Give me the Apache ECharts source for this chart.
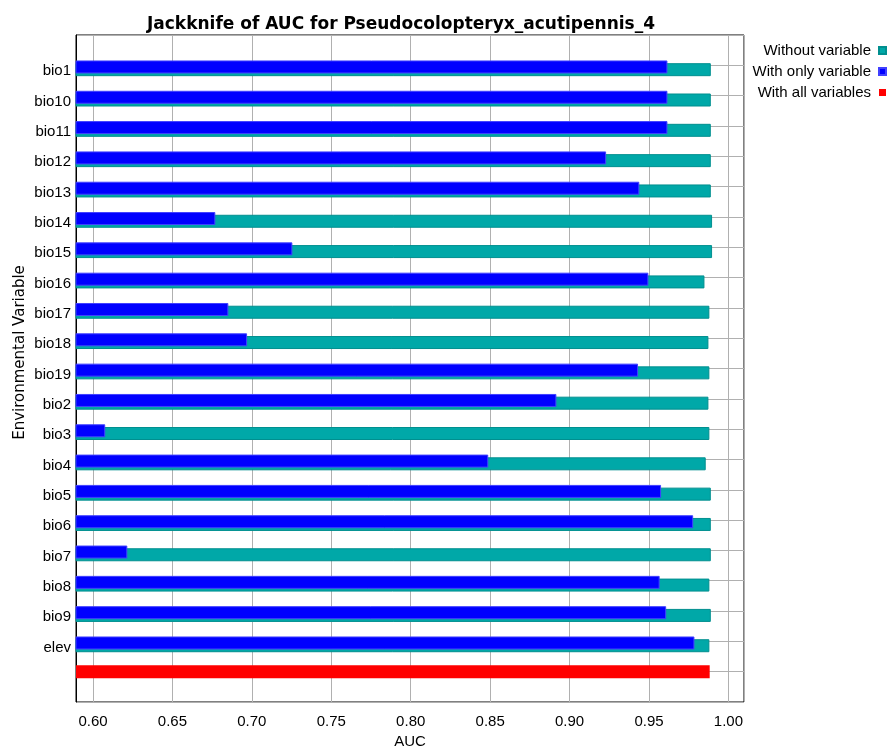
<!DOCTYPE html>
<html>
<head>
<meta charset="utf-8">
<script src="https://cdn.jsdelivr.net/npm/echarts@6/dist/echarts.min.js"></script>
<style>
  html, body { margin: 0; padding: 0; background: #fff; }
  #chart { width: 888px; height: 748px; }
</style>
</head>
<body>
<div id="chart"></div>
<script>
// jackknife results
const variables = ['bio1', 'bio10', 'bio11', 'bio12', 'bio13', 'bio14', 'bio15', 'bio16', 'bio17', 'bio18',
  'bio19', 'bio2', 'bio3', 'bio4', 'bio5', 'bio6', 'bio7', 'bio8', 'bio9', 'elev'];
const withoutVariable = [0.9889, 0.9889, 0.9889, 0.9889, 0.9889, 0.9897, 0.9897, 0.9849, 0.9880, 0.9874,
  0.9880, 0.9874, 0.9880, 0.9857, 0.9889, 0.9889, 0.9889, 0.9880, 0.9889, 0.9880];
const withOnlyVariable = [0.9616, 0.9616, 0.9616, 0.9230, 0.9439, 0.6770, 0.7255, 0.9496, 0.6852, 0.6970,
  0.9431, 0.8917, 0.6077, 0.8488, 0.9576, 0.9778, 0.6216, 0.9567, 0.9608, 0.9786];
const withAllVariables = 0.9882;

const xMin = 0.5893;
const xMax = 1.0098;

// empty slot on top, one row for "all variables", empty slot at bottom
const categories = [' '].concat(variables, ['  ', '   ']);
const allIndex = variables.length + 1;

const padRows = (arr) => [null].concat(arr, [null, null]);
const allRow = categories.map((c, i) => (i === allIndex ? withAllVariables : null));

const font = 'Liberation Sans, Arial, sans-serif';
const wideFont = 'DejaVu Sans, sans-serif';
const chart = echarts.init(document.getElementById('chart'));

const option = {
  animation: false,
  textStyle: { fontFamily: font },
  title: {
    text: 'Jackknife of AUC for Pseudocolopteryx_acutipennis_4',
    left: 396,
    textAlign: 'center',
    top: 11,
    textStyle: { fontSize: 17, fontWeight: 'bold', color: '#000', fontFamily: wideFont },
  },
  legend: {
    data: ['Without variable', 'With only variable', 'With all variables'],
    orient: 'vertical',
    align: 'right',
    right: 1,
    top: 43,
    padding: 0,
    itemWidth: 7,
    itemHeight: 7,
    itemGap: 6,
    icon: 'rect',
    textStyle: { fontSize: 15, color: '#000', fontFamily: font, padding: [0, 3, 0, 0] },
  },
  grid: [
    { left: 76, right: 144, top: 35, bottom: 46, show: true, borderColor: '#000', borderWidth: 1,
      containLabel: false, outerBoundsMode: 'none' },
    // bars sit a few pixels below the tick rows
    { left: 76, right: 144, top: 38, bottom: 43, containLabel: false, outerBoundsMode: 'none' },
  ],
  xAxis: [
    {
      gridIndex: 0,
      type: 'value',
      min: xMin,
      max: xMax,
      splitNumber: 8,
      name: 'AUC',
      nameLocation: 'middle',
      nameGap: 32,
      nameTextStyle: { fontSize: 15, color: '#000' },
      axisLine: { lineStyle: { color: '#000' } },
      axisTick: { inside: true, length: 5, lineStyle: { color: '#000' } },
      axisLabel: {
        fontSize: 15, color: '#000', margin: 12,
        showMinLabel: false, showMaxLabel: false,
        formatter: (v) => v.toFixed(2),
      },
      splitLine: { show: true, lineStyle: { color: '#b0b0b0', width: 1 } },
    },
    {
      gridIndex: 0,
      type: 'value',
      position: 'top',
      min: xMin,
      max: xMax,
      splitNumber: 8,
      axisLine: { lineStyle: { color: '#000' } },
      axisTick: { inside: true, length: 5, lineStyle: { color: '#000' } },
      axisLabel: { show: false },
      splitLine: { show: false },
    },
    {
      gridIndex: 1,
      type: 'value',
      min: xMin,
      max: xMax,
      show: false,
    },
  ],
  yAxis: [
    {
      gridIndex: 0,
      type: 'category',
      data: categories,
      inverse: true,
      boundaryGap: false,
      name: 'Environmental Variable',
      nameLocation: 'middle',
      nameGap: 48,
      nameMoveOverlap: false,
      nameTextStyle: { fontSize: 15, color: '#000', fontFamily: wideFont, padding: [0, 0, 0, 32] },
      axisLine: { lineStyle: { color: '#000' } },
      axisTick: { show: false },
      axisLabel: { fontSize: 15, color: '#000', margin: 5, verticalAlign: 'top', lineHeight: 12, interval: 0 },
      splitLine: { show: true, interval: 0, lineStyle: { color: '#b0b0b0', width: 1 } },
    },
    {
      gridIndex: 1,
      type: 'category',
      data: categories,
      inverse: true,
      boundaryGap: false,
      show: false,
    },
  ],
  series: [
    {
      name: 'With only variable',
      type: 'bar',
      xAxisIndex: 2,
      yAxisIndex: 1,
      data: padRows(withOnlyVariable),
      barWidth: 13,
      barGap: '-79%',
      z: 3,
      itemStyle: { color: '#0000ff', borderColor: '#4040ff', borderWidth: 1 },
    },
    {
      name: 'Without variable',
      type: 'bar',
      xAxisIndex: 2,
      yAxisIndex: 1,
      data: padRows(withoutVariable),
      barWidth: 13,
      barGap: '-79%',
      z: 2,
      itemStyle: { color: '#00a8a8', borderColor: '#008f8f', borderWidth: 1 },
    },
    {
      name: 'With all variables',
      type: 'bar',
      xAxisIndex: 0,
      yAxisIndex: 0,
      data: allRow,
      barWidth: 13,
      itemStyle: { color: '#ff0000' },
    },
  ],
};

chart.setOption(option);
</script>
</body>
</html>
